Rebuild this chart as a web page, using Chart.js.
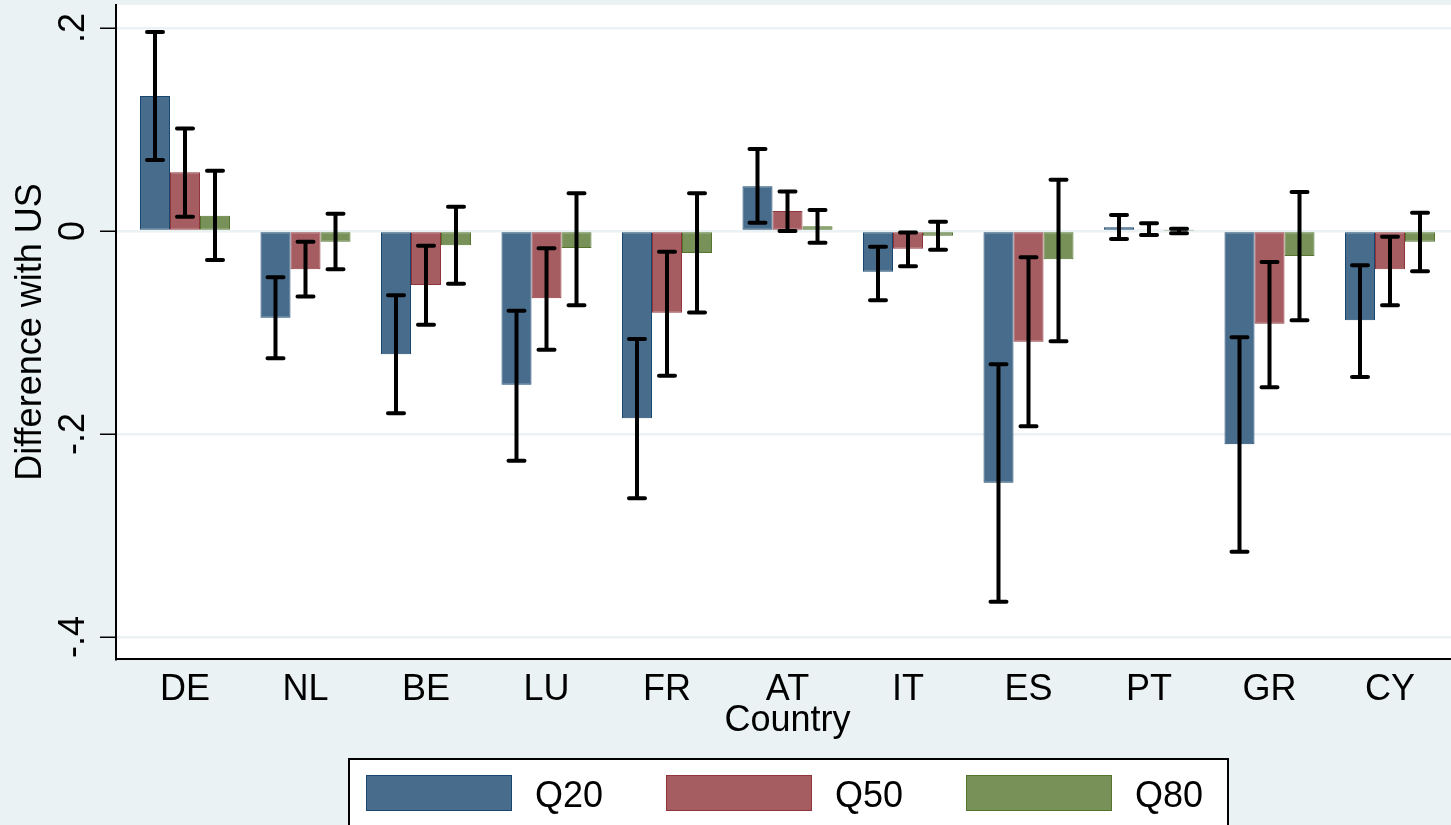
<!DOCTYPE html>
<html>
<head>
<meta charset="utf-8">
<title>Difference with US by country</title>
<script src="https://cdn.jsdelivr.net/npm/chart.js@4/dist/chart.umd.min.js"></script>
<style>
  html, body { margin: 0; padding: 0; overflow: hidden; background: #EAF2F3; }
  canvas { display: block; }
</style>
</head>
<body>
<canvas id="chart" width="1459" height="845"></canvas>
<script>
// Countries along the x axis
const categories = ['DE', 'NL', 'BE', 'LU', 'FR', 'AT', 'IT', 'ES', 'PT', 'GR', 'CY'];
const seriesNames = ['Q20', 'Q50', 'Q80'];

// Point estimates per quantile
const q20 = [0.133, -0.0854, -0.1215, -0.1514, -0.1845, 0.0440, -0.0401, -0.2480, 0.0036, -0.2102, -0.0880];
const q50 = [0.0578, -0.0377, -0.0532, -0.0663, -0.0805, 0.0197, -0.0174, -0.1091, 0.0015, -0.0914, -0.0377];
const q80 = [0.015, -0.0105, -0.0141, -0.0168, -0.0217, 0.0046, -0.0046, -0.0279, 0.0005, -0.0246, -0.0105];

// Confidence interval bounds
const q20Lo = [0.070, -0.1254, -0.1796, -0.2263, -0.2633, 0.0082, -0.0683, -0.3652, -0.0079, -0.3160, -0.1438];
const q20Hi = [0.196, -0.0456, -0.0633, -0.0785, -0.1064, 0.0807, -0.0154, -0.1314, 0.0158, -0.1047, -0.0338];
const q50Lo = [0.014, -0.0645, -0.0923, -0.1170, -0.1425, 0.0000, -0.0348, -0.1924, -0.0039, -0.1540, -0.0732];
const q50Hi = [0.101, -0.0105, -0.0145, -0.0171, -0.0204, 0.0390, -0.0014, -0.0259, 0.0076, -0.0305, -0.0056];
const q80Lo = [-0.0286, -0.0377, -0.0519, -0.0732, -0.0802, -0.0115, -0.0184, -0.1087, -0.0023, -0.0880, -0.0397];
const q80Hi = [0.0594, 0.0169, 0.0240, 0.0372, 0.0372, 0.0207, 0.0092, 0.0505, 0.0023, 0.0384, 0.0180];

// Y axis ticks and their labels
const yTicks = [-0.4, -0.2, 0, 0.2];
const yTickLabels = ['-.4', '-.2', '0', '.2'];

const values = [q20, q50, q80];
const lows = [q20Lo, q50Lo, q80Lo];
const highs = [q20Hi, q50Hi, q80Hi];
const fills = ['rgb(72,108,140)', 'rgb(166,93,98)', 'rgb(119,145,89)'];
const strokes = ['rgb(26,71,111)', 'rgb(144,53,59)', 'rgb(85,117,47)'];

const FONT = '"Liberation Sans", Arial, Helvetica, sans-serif';
const BG = '#EAF2F3';

const datasets = seriesNames.map((name, k) => ({
  label: name,
  data: values[k].map((v, i) => ({ x: i, y: v })),
  backgroundColor: fills[k],
  borderColor: strokes[k],
  borderWidth: 1,
  borderSkipped: false,
  categoryPercentage: 0.747,
  barPercentage: 1.0
}));

// Figure and plot region backgrounds
const backgroundPlugin = {
  id: 'figureBackground',
  beforeDraw(chart) {
    const { ctx, chartArea } = chart;
    ctx.save();
    ctx.fillStyle = BG;
    ctx.fillRect(0, 0, chart.width, chart.height);
    ctx.fillStyle = '#ffffff';
    ctx.fillRect(chartArea.left, chartArea.top, chartArea.right - chartArea.left, chartArea.bottom - chartArea.top);
    ctx.restore();
  }
};

// Capped confidence interval whiskers on every bar
const errorBarPlugin = {
  id: 'errorBars',
  afterDatasetsDraw(chart) {
    const { ctx } = chart;
    const yScale = chart.scales.y;
    ctx.save();
    ctx.strokeStyle = '#000000';
    ctx.lineWidth = 4;
    ctx.lineCap = 'round';
    chart.data.datasets.forEach((ds, k) => {
      const meta = chart.getDatasetMeta(k);
      meta.data.forEach((bar, i) => {
        const x = bar.x;
        const yLo = yScale.getPixelForValue(lows[k][i]);
        const yHi = yScale.getPixelForValue(highs[k][i]);
        const half = 8;
        ctx.beginPath();
        ctx.moveTo(x, yLo);
        ctx.lineTo(x, yHi);
        ctx.moveTo(x - half, yLo);
        ctx.lineTo(x + half, yLo);
        ctx.moveTo(x - half, yHi);
        ctx.lineTo(x + half, yHi);
        ctx.stroke();
      });
    });
    ctx.restore();
  }
};

// Boxed legend below the axis title
const boxedLegendPlugin = {
  id: 'boxedLegend',
  afterDraw(chart) {
    const { ctx } = chart;
    ctx.save();
    ctx.fillStyle = '#ffffff';
    ctx.fillRect(349, 759, 879, 84);
    ctx.strokeStyle = '#000000';
    ctx.lineWidth = 2;
    ctx.strokeRect(349, 759, 879, 84);
    ctx.font = '36px ' + FONT;
    ctx.textBaseline = 'alphabetic';
    ctx.textAlign = 'left';
    chart.data.datasets.forEach((ds, k) => {
      const x = 366 + k * 300;
      ctx.fillStyle = ds.backgroundColor;
      ctx.fillRect(x, 775, 146, 36);
      ctx.strokeStyle = ds.borderColor;
      ctx.lineWidth = 1;
      ctx.strokeRect(x + 0.5, 775.5, 145, 35);
      ctx.fillStyle = '#000000';
      ctx.fillText(ds.label, x + 169, 807);
    });
    ctx.restore();
  }
};

new Chart(document.getElementById('chart'), {
  type: 'bar',
  data: { datasets },
  plugins: [backgroundPlugin, errorBarPlugin, boxedLegendPlugin],
  options: {
    responsive: false,
    devicePixelRatio: 1,
    animation: false,
    layout: { padding: { top: 5, left: 0, right: 0, bottom: 102 } },
    plugins: {
      legend: { display: false },
      title: { display: false },
      tooltip: { enabled: false }
    },
    scales: {
      x: {
        type: 'linear',
        offset: false,
        min: -0.5726,
        max: 10.5726,
        afterBuildTicks(scale) {
          scale.ticks = categories.map((c, i) => ({ value: i }));
        },
        afterFit(scale) {
          scale.height = 84;
          scale.paddingLeft = 0;
          scale.paddingRight = 0;
        },
        grid: { display: false, drawTicks: false, offset: false },
        border: { display: true, color: '#000000', width: 2 },
        ticks: {
          autoSkip: false,
          maxRotation: 0,
          minRotation: 0,
          padding: 9,
          color: '#000000',
          font: { family: FONT, size: 36 },
          callback: (v) => categories[v]
        },
        title: {
          display: true,
          text: 'Country',
          color: '#000000',
          font: { family: FONT, size: 36 },
          padding: { top: 0, bottom: 0 }
        }
      },
      y: {
        min: -0.42167,
        max: 0.22266,
        afterBuildTicks(scale) {
          scale.ticks = yTicks.map(v => ({ value: v }));
        },
        afterFit(scale) {
          scale.width = 116;
          scale.paddingTop = 0;
          scale.paddingBottom = 0;
        },
        grid: {
          color: BG,
          lineWidth: 2.5,
          drawTicks: true,
          tickLength: 16,
          tickColor: '#000000',
          tickWidth: 1.5
        },
        border: { display: true, color: '#000000', width: 2 },
        ticks: {
          minRotation: 90,
          maxRotation: 90,
          crossAlign: 'center',
          padding: 4.5,
          color: '#000000',
          font: { family: FONT, size: 36 },
          callback: (v) => {
            const idx = yTicks.findIndex(t => Math.abs(t - v) < 1e-9);
            return idx >= 0 ? yTickLabels[idx] : '';
          }
        },
        title: {
          display: true,
          text: 'Difference with US',
          color: '#000000',
          font: { family: FONT, size: 36 },
          padding: { top: 9, bottom: 0 }
        }
      }
    }
  }
});
</script>
</body>
</html>
